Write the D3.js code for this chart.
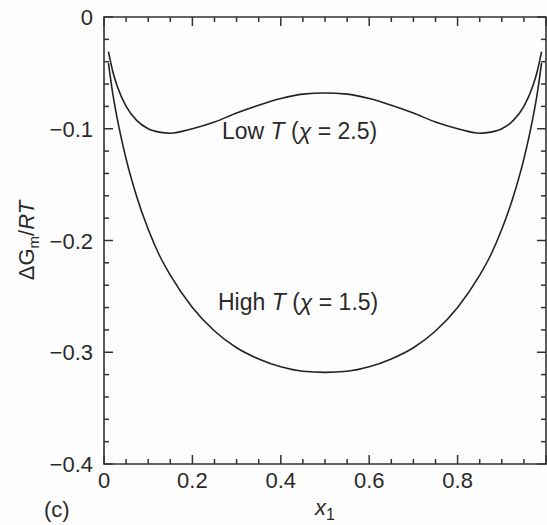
<!DOCTYPE html>
<html>
    <head>
        <meta charset="utf-8">
        <title>Free energy of mixing</title>
        <script src="https://d3js.org/d3.v7.min.js"></script>
        <style>
            body { margin: 0; background: #fdfdfd; }
            text { font-family: "Liberation Sans", Arial, sans-serif; fill: #2a2a2a; }
        </style>
    </head>
    <body>
        <script>
            // values
            const xs = [0.01, 0.02, 0.03, 0.05, 0.075, 0.1, 0.125, 0.15, 0.2, 0.25, 0.3, 0.35, 0.4, 0.45, 0.5,
                        0.55, 0.6, 0.65, 0.7, 0.75, 0.8, 0.85, 0.875, 0.9, 0.925, 0.95, 0.97, 0.98, 0.99];
            const lowT = [-0.031, -0.049, -0.062, -0.080, -0.093, -0.100, -0.103, -0.104, -0.100, -0.094, -0.086, -0.079, -0.073, -0.069, -0.068,
                          -0.069, -0.073, -0.079, -0.086, -0.094, -0.100, -0.104, -0.103, -0.100, -0.093, -0.080, -0.062, -0.049, -0.031];
            const highT = [-0.041, -0.069, -0.091, -0.127, -0.162, -0.190, -0.213, -0.231, -0.260, -0.281, -0.296, -0.306, -0.313, -0.317, -0.318,
                           -0.317, -0.313, -0.306, -0.296, -0.281, -0.260, -0.231, -0.213, -0.190, -0.162, -0.127, -0.091, -0.069, -0.041];
            const xTicks = [0, 0.2, 0.4, 0.6, 0.8];
            const yTicks = [0, -0.1, -0.2, -0.3, -0.4];

            const W = 547, H = 525;
            const mLeft = 104, mRight = 546, mTop = 17, mBottom = 464;

            const svg = d3.select("body").append("svg")
                .attr("width", W)
                .attr("height", H)
            ;
            const x = d3.scaleLinear().domain([0, 1]).range([mLeft, mRight]);
            const y = d3.scaleLinear().domain([-0.4, 0]).range([mBottom, mTop]);

            const xMinor = d3.range(0, 1.001, 0.05);
            const yMinor = d3.range(-0.4, 0.001, 0.02);
            const isMajor = v => Math.abs(v * 10 - Math.round(v * 10)) < 1e-6 && Math.round(v * 10) % 2 === 0;
            const isMajorY = v => Math.abs(v * 10 - Math.round(v * 10)) < 1e-6;
            const fmt = v => v === 0 ? "0" : d3.format(".1f")(v);

            // frame
            svg.append("path")
                .attr("d", `M${mLeft},${mTop}H${mRight}V${mBottom}H${mLeft}Z`)
                .style("fill", "none").style("stroke", "#333").style("stroke-width", 1.6)
            ;

            // inward ticks on all four sides
            const tk = svg.append("g").style("stroke", "#333").style("stroke-width", 1.5);
            tk.selectAll(".tb").data(xMinor).join("line")
                .attr("x1", d => x(d)).attr("x2", d => x(d))
                .attr("y1", mBottom).attr("y2", d => mBottom - (isMajor(d) ? 9 : 5));
            tk.selectAll(".tt").data(xMinor).join("line")
                .attr("x1", d => x(d)).attr("x2", d => x(d))
                .attr("y1", mTop).attr("y2", d => mTop + (isMajor(d) ? 9 : 5));
            tk.selectAll(".tl").data(yMinor).join("line")
                .attr("y1", d => y(d)).attr("y2", d => y(d))
                .attr("x1", mLeft).attr("x2", d => mLeft + (isMajorY(d) ? 9 : 5));
            tk.selectAll(".tr").data(yMinor).join("line")
                .attr("y1", d => y(d)).attr("y2", d => y(d))
                .attr("x1", mRight).attr("x2", d => mRight - (isMajorY(d) ? 9 : 5));

            // tick labels
            svg.append("g").selectAll("text").data(xTicks).join("text")
                .attr("x", d => x(d)).attr("y", mBottom + 24)
                .attr("text-anchor", "middle").attr("font-size", 22)
                .text(fmt)
            ;
            svg.append("g").selectAll("text").data(yTicks).join("text")
                .attr("x", mLeft - 11).attr("y", d => y(d) + 8)
                .attr("text-anchor", "end").attr("font-size", 22)
                .text(fmt)
            ;

            // curves
            const line = d3.line().x((d, i) => x(xs[i])).y(d => y(d)).curve(d3.curveMonotoneX);
            [lowT, highT].forEach(s => svg.append("path")
                .attr("d", line(s))
                .style("fill", "none").style("stroke", "#222").style("stroke-width", 1.6)
            );

            // labels
            const lab = (tx, ty, t, chi) => {
                const el = svg.append("text").attr("x", tx).attr("y", ty).attr("font-size", 23);
                el.append("tspan").text(t + " ");
                el.append("tspan").attr("font-style", "italic").text("T");
                el.append("tspan").text(" (");
                el.append("tspan").attr("font-style", "italic").text("χ");
                el.append("tspan").text(" = " + chi + ")");
            };
            lab(222, 139, "Low", "2.5");
            lab(218, 310, "High", "1.5");

            const yl = svg.append("text")
                .attr("transform", `translate(34,${(mTop + mBottom) / 2}) rotate(-90)`)
                .attr("text-anchor", "middle").attr("font-size", 22);
            yl.append("tspan").text("ΔG");
            yl.append("tspan").attr("font-size", 15).attr("dy", 5).text("m");
            yl.append("tspan").attr("dy", -5).text("/");
            yl.append("tspan").attr("font-style", "italic").text("RT");

            const xl = svg.append("text")
                .attr("x", (mLeft + mRight) / 2).attr("y", 515)
                .attr("text-anchor", "middle").attr("font-size", 22);
            xl.append("tspan").attr("font-style", "italic").text("x");
            xl.append("tspan").attr("font-size", 16).attr("dy", 5).text("1");

            svg.append("text").attr("x", 44).attr("y", 517).attr("font-size", 22).text("(c)");
        </script>
    </body>
</html>
